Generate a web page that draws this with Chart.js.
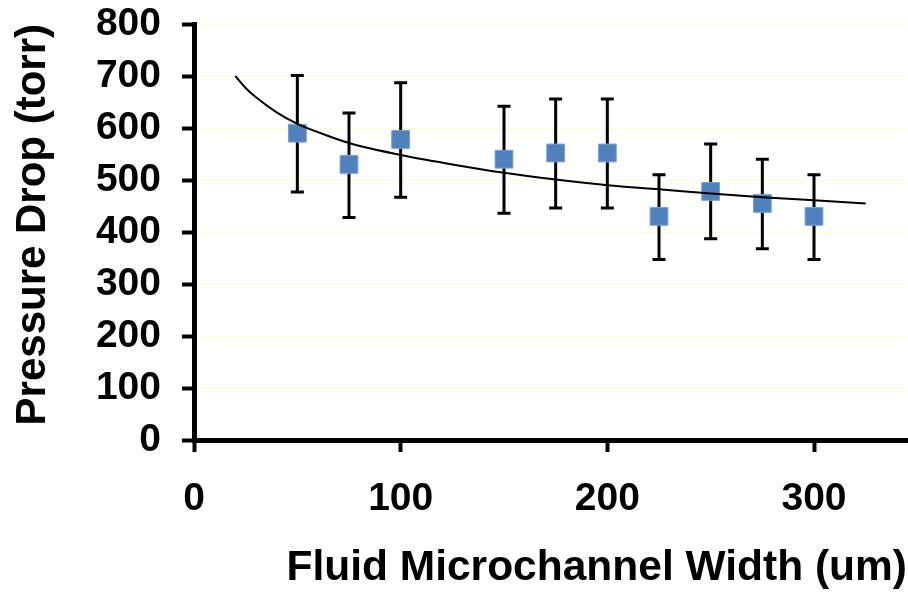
<!DOCTYPE html>
<html>
<head>
<meta charset="utf-8">
<script src="https://cdn.jsdelivr.net/npm/chart.js@4"></script>
<style>
  html, body { margin: 0; padding: 0; background: #fff; }
  #c { display: block; }
</style>
</head>
<body>
<canvas id="c" width="908" height="594"></canvas>
<script>
// ---- data ----
const widths    = [50, 75, 100, 150, 175, 200, 225, 250, 275, 300];
const pressure  = [590, 530, 578, 540, 552, 552, 430, 478, 455, 430];
const errLow    = [477, 428, 467, 436, 446, 446, 347, 387, 368, 347];
const errHigh   = [701, 629, 687, 642, 656, 656, 510, 569, 540, 510];
const trendX    = [20, 25, 30, 40, 50, 60, 75, 100, 125, 150, 175, 200, 225, 250, 275, 300, 325];
const trendY    = [700, 677, 659, 630, 608, 592, 571, 548, 530, 514, 501, 490, 482, 474, 467, 461, 455];
const yTicks    = [0, 100, 200, 300, 400, 500, 600, 700, 800];
const xTicks    = [0, 100, 200, 300];

const FONT = "'Liberation Sans', Arial, sans-serif";

const points = widths.map((x, i) => ({ x: x, y: pressure[i] }));
const trend = trendX.map((x, i) => ({ x: x, y: trendY[i] }));

const errorBars = {
  id: 'errorBars',
  beforeDatasetsDraw(chart) {
    const { ctx, scales: { x, y } } = chart;
    ctx.save();
    ctx.strokeStyle = '#000';
    ctx.lineWidth = 3;
    ctx.lineCap = 'butt';
    widths.forEach((w, i) => {
      const px = x.getPixelForValue(w);
      const pLo = y.getPixelForValue(errLow[i]);
      const pHi = y.getPixelForValue(errHigh[i]);
      ctx.beginPath();
      ctx.moveTo(px, pLo); ctx.lineTo(px, pHi);
      ctx.moveTo(px - 6.5, pLo); ctx.lineTo(px + 6.5, pLo);
      ctx.moveTo(px - 6.5, pHi); ctx.lineTo(px + 6.5, pHi);
      ctx.stroke();
    });
    ctx.restore();
  }
};

new Chart(document.getElementById('c'), {
  type: 'scatter',
  data: {
    datasets: [
      {
        label: 'Trend',
        data: trend,
        showLine: true,
        borderColor: '#000',
        borderWidth: 2,
        pointRadius: 0,
        cubicInterpolationMode: 'monotone',
        fill: false,
        order: 0
      },
      {
        label: 'Pressure Drop',
        data: points,
        pointStyle: 'rect',
        pointRadius: 12.6,
        pointHoverRadius: 12.6,
        backgroundColor: '#4F81BD',
        borderColor: '#7DA2D0',
        borderWidth: 1,
        order: 1
      }
    ]
  },
  plugins: [errorBars],
  options: {
    responsive: false,
    animation: false,
    events: [],
    layout: { autoPadding: false, padding: { left: 8, right: 1, top: 24, bottom: 0 } },
    plugins: { legend: { display: false }, tooltip: { enabled: false } },
    scales: {
      x: {
        type: 'linear',
        min: 0,
        max: 345,
        afterBuildTicks: (s) => { s.ticks = xTicks.map(v => ({ value: v })); },
        afterFit: (s) => { s.height = 154; s.paddingLeft = 0; s.paddingRight = 0; },
        ticks: {
          color: '#000',
          font: { family: FONT, size: 39, weight: 'bold' },
          padding: 24,
          maxRotation: 0
        },
        grid: {
          drawOnChartArea: false,
          drawTicks: true,
          tickLength: 12,
          tickWidth: 4,
          tickColor: '#000'
        },
        border: { color: '#000', width: 5 },
        title: {
          display: true,
          text: 'Fluid Microchannel Width (um)',
          color: '#000',
          align: 'end',
          font: { family: FONT, size: 42.5, weight: 'bold' },
          padding: { top: 0, bottom: 0 }
        }
      },
      y: {
        type: 'linear',
        min: 0,
        max: 800,
        afterBuildTicks: (s) => { s.ticks = yTicks.map(v => ({ value: v })); },
        afterFit: (s) => { s.width = 186; s.paddingTop = 0; s.paddingBottom = 0; },
        ticks: {
          color: '#000',
          font: { family: FONT, size: 39, weight: 'bold' },
          padding: 21
        },
        grid: {
          color: '#FFFFCC',
          lineWidth: 1,
          drawTicks: true,
          tickLength: 12,
          tickWidth: 4,
          tickColor: '#000'
        },
        border: { color: '#000', width: 5 },
        title: {
          display: true,
          text: 'Pressure Drop (torr)',
          color: '#000',
          align: 'end',
          font: { family: FONT, size: 42, weight: 'bold' },
          padding: { top: 0, bottom: 0 }
        }
      }
    }
  }
});
</script>
</body>
</html>
